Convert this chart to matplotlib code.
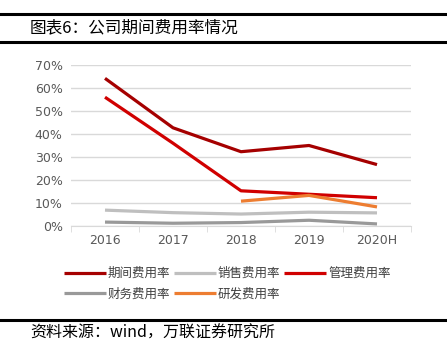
import matplotlib.pyplot as plt
import numpy as np

plt.rcParams['font.family'] = ['Noto Sans CJK SC', 'DejaVu Sans']

years = ['2016', '2017', '2018', '2019', '2020H']
period_rate = [64.2, 42.7, 32.3, 35.0, 26.7]
sales_rate = [6.9, 5.8, 5.2, 6.0, 5.7]
admin_rate = [56.0, 36.0, 15.3, 13.8, 12.3]
finance_rate = [1.7, 1.2, 1.5, 2.5, 0.9]
rd_rate = [None, None, 10.8, 13.3, 8.3]

series = [
    ('期间费用率', period_rate, '#A50000'),
    ('销售费用率', sales_rate, '#BFBFBF'),
    ('管理费用率', admin_rate, '#D00000'),
    ('财务费用率', finance_rate, '#999999'),
    ('研发费用率', rd_rate, '#ED7D31'),
]

fig = plt.figure(figsize=(4.47, 3.57), dpi=100)
W, H = 447, 357

# header / footer rules
fig.add_artist(plt.Line2D([0, 1], [1 - 14 / H] * 2, color='black', lw=2.2))
fig.add_artist(plt.Line2D([0, 1], [1 - 42 / H] * 2, color='black', lw=2.2))
fig.add_artist(plt.Line2D([0, 1], [1 - 320 / H] * 2, color='black', lw=2.2))
fig.text(30 / W, 1 - 28 / H, '图表6：公司期间费用率情况', fontsize=12, va='center', ha='left')
fig.text(30 / W, 1 - 333 / H, '资料来源：wind，万联证券研究所', fontsize=11.5, va='center', ha='left',
         style='italic')

ax = fig.add_axes([71 / W, 1 - 226 / H, 340 / W, 161 / H])
x = np.arange(len(years))
lines = {}
for name, vals, color in series:
    y = np.array([np.nan if v is None else v for v in vals], dtype=float) / 100
    lines[name], = ax.plot(x, y, color=color, lw=2.3, label=name, solid_capstyle='butt')

ax.set_xlim(-0.5, len(years) - 0.5)
ax.set_ylim(0, 0.7)
ax.set_yticks(np.arange(0, 0.71, 0.1))
ax.set_yticklabels([f'{int(round(v * 100))}%' for v in np.arange(0, 0.71, 0.1)])
ax.set_xticks(x)
ax.set_xticklabels(years)
ax.set_xticks(np.arange(-0.5, len(years), 1), minor=True)
ax.tick_params(axis='x', which='major', length=0, pad=6, colors='#595959', labelsize=9)
ax.tick_params(axis='x', which='minor', length=4, color='#D9D9D9')
ax.tick_params(axis='y', length=0, pad=6, colors='#595959', labelsize=9)
for lbl in ax.get_xticklabels() + ax.get_yticklabels():
    lbl.set_family('DejaVu Sans')
ax.grid(axis='y', color='#D9D9D9', lw=1)
ax.set_axisbelow(True)
for s in ['top', 'right', 'left']:
    ax.spines[s].set_visible(False)
ax.spines['bottom'].set_color('#D9D9D9')

# legend fills column-wise, so order so rows read left to right
order = ['期间费用率', '财务费用率', '销售费用率', '研发费用率', '管理费用率']
fig.legend([lines[n] for n in order], order, loc='upper left',
           bbox_to_anchor=(53 / W, 1 - 256 / H), ncol=3, frameon=False,
           fontsize=9, handlelength=3.3, handletextpad=0.2, columnspacing=0.3,
           labelspacing=0.6, labelcolor='#404040')

fig.savefig('out.png', dpi=100)
